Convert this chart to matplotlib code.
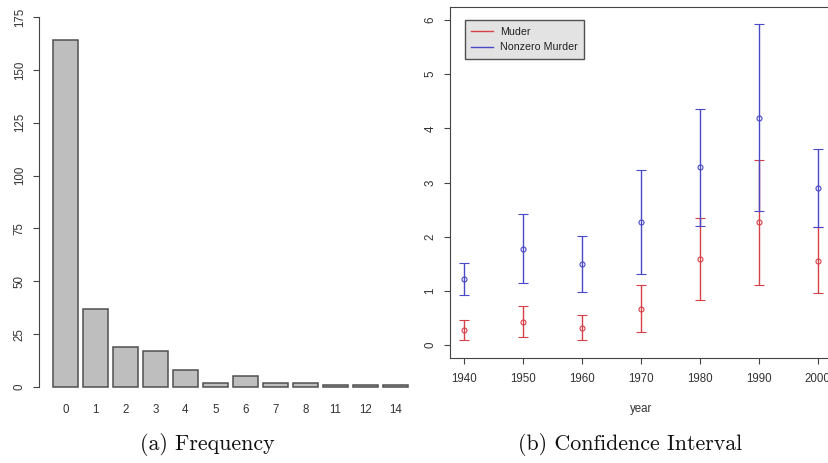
import numpy as np
from matplotlib import pyplot as plt
from matplotlib.lines import Line2D

plt.rcParams['font.family'] = ['Liberation Sans', 'DejaVu Sans']

# left panel: frequency of counts
counts = ['0', '1', '2', '3', '4', '5', '6', '7', '8', '11', '12', '14']
freq = [164, 37, 19, 17, 8, 2, 5, 2, 2, 1, 1, 1]

# right panel: confidence intervals by year
years = [1940, 1950, 1960, 1970, 1980, 1990, 2000]
muder_mean = [0.28, 0.43, 0.31, 0.66, 1.59, 2.27, 1.56]
muder_low = [0.10, 0.14, 0.09, 0.24, 0.84, 1.11, 0.96]
muder_high = [0.47, 0.72, 0.55, 1.11, 2.34, 3.42, 2.18]
nz_mean = [1.22, 1.77, 1.49, 2.27, 3.28, 4.20, 2.90]
nz_low = [0.93, 1.14, 0.97, 1.31, 2.19, 2.47, 2.18]
nz_high = [1.51, 2.42, 2.02, 3.23, 4.36, 5.93, 3.61]

W, H = 829, 463
fig = plt.figure(figsize=(W / 100, H / 100), dpi=100)

axcol = '#444444'
txtcol = '#333333'
fs = 8.3

######## (a) Frequency ########
ax1 = fig.add_axes([38.8 / W, 1 - 400.9 / H, 383.4 / W, 385.0 / H])
x = 0.7 + 1.2 * np.arange(len(freq))
ax1.bar(x, freq, width=1.0, color='#bebebe', edgecolor='#505050', linewidth=1.1)
ax1.set_xlim(-0.368, 14.968)
ax1.set_ylim(-6.56, 175.5)
for s in ['top', 'right', 'bottom']:
    ax1.spines[s].set_visible(False)
ax1.spines['left'].set_bounds(0, 175)
ax1.spines['left'].set_color(axcol)
ax1.set_yticks(np.arange(0, 176, 25))
ax1.set_xticks(x)
ax1.set_xticklabels(counts)
ax1.tick_params(axis='x', length=0, pad=2.0, labelsize=fs, labelcolor=txtcol)
ax1.tick_params(axis='y', length=4.3, pad=5.0, labelsize=fs, labelcolor=txtcol, color=axcol)
for lab in ax1.get_yticklabels():
    lab.set_rotation(90)
    lab.set_va('center')

######## (b) Confidence Interval ########
ax2 = fig.add_axes([450.2 / W, 1 - 358.0 / H, 381.6 / W, 351.0 / H])
red = '#d84048'
blue = '#4848c8'
m = np.array(muder_mean)
ax2.errorbar(years, m, yerr=[m - np.array(muder_low), np.array(muder_high) - m],
             fmt='o', color=red, ms=3.6, mfc='none', mew=0.8, elinewidth=1.0,
             capsize=3.6, capthick=1.0, label='Muder')
n = np.array(nz_mean)
ax2.errorbar(years, n, yerr=[n - np.array(nz_low), np.array(nz_high) - n],
             fmt='o', color=blue, ms=3.6, mfc='none', mew=0.8, elinewidth=1.0,
             capsize=3.6, capthick=1.0, label='Nonzero Murder')
ax2.set_xlim(1937.6, 2002.4)
ax2.set_ylim(-0.24, 6.24)
ax2.set_xticks(years)
ax2.set_yticks(range(0, 7))
for s in ax2.spines.values():
    s.set_color(axcol)
ax2.tick_params(axis='x', length=4.5, pad=6.5, labelsize=fs, labelcolor=txtcol, color=axcol)
ax2.tick_params(axis='y', length=4.5, pad=5.5, labelsize=fs, labelcolor=txtcol, color=axcol)
for lab in ax2.get_yticklabels():
    lab.set_rotation(90)
    lab.set_va('center')
ax2.set_xlabel('year', fontsize=fs, color=txtcol, labelpad=13)

handles = [Line2D([], [], color=red, lw=1.0), Line2D([], [], color=blue, lw=1.0)]
leg = ax2.legend(handles, ['Muder', 'Nonzero Murder'], loc='upper left',
                 bbox_to_anchor=(14.5 / 381.6, 1 - 13.5 / 351.0), fontsize=7.7,
                 fancybox=False, framealpha=1, facecolor='#e3e3e3', edgecolor='#505050',
                 handlelength=2.0, handletextpad=0.7, labelspacing=0.5,
                 borderpad=0.6, borderaxespad=0)
leg.get_frame().set_linewidth(1.0)
for t in leg.get_texts():
    t.set_color('#222222')

######## captions ########
cap = dict(family=['cmr10', 'DejaVu Serif'], fontsize=15.8, ha='center', va='center', color='#111111')
fig.text(207.5 / W, 1 - 444 / H, '(a) Frequency', **cap)
fig.text(630 / W, 1 - 444 / H, '(b) Confidence Interval', **cap)

plt.savefig('out.png', dpi=100)
